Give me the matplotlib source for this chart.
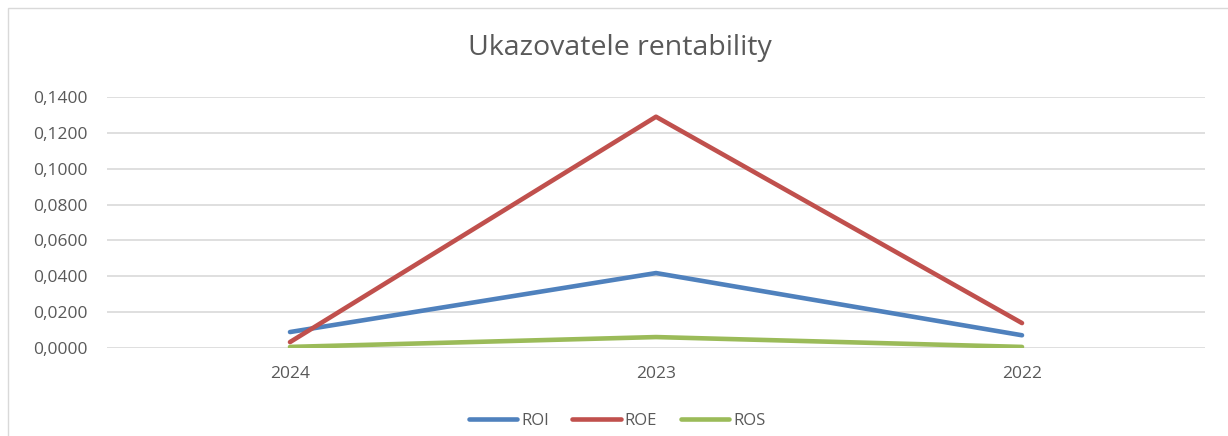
import matplotlib
matplotlib.use('Agg')
import matplotlib.pyplot as plt
from matplotlib.patches import Rectangle
from matplotlib.ticker import FuncFormatter

plt.rcParams['font.family'] = ['Open Sans', 'DejaVu Sans']

years = ['2024', '2023', '2022']
roi = [0.0089, 0.0418, 0.0071]
roe = [0.0033, 0.1290, 0.0139]
ros = [0.0006, 0.0061, 0.0006]

fig = plt.figure(figsize=(12.28, 4.36), dpi=100)
ax = fig.add_axes([107/1228, 1-348/436, 1098/1228, 251/436])

x = range(len(years))
ax.plot(x, roi, color='#4F81BD', lw=3.3, solid_capstyle='round', label='ROI')
ax.plot(x, roe, color='#C0504D', lw=3.3, solid_capstyle='round', label='ROE')
ax.plot(x, ros, color='#9BBB59', lw=3.3, solid_capstyle='round', label='ROS')

ax.set_xlim(-0.5, 2.5)
ax.set_ylim(0, 0.14)
ax.set_yticks([0.02 * i for i in range(8)])
ax.yaxis.set_major_formatter(FuncFormatter(lambda v, p: f'{v:.4f}'.replace('.', ',')))
ax.set_xticks(list(x))
ax.set_xticklabels(years)
ax.tick_params(length=0, labelsize=12.5, colors='#595959')
ax.tick_params(axis='y', pad=14)
ax.tick_params(axis='x', pad=13)
ax.grid(axis='y', color='#D9D9D9', lw=1.2)
ax.set_axisbelow(True)
for s in ax.spines.values():
    s.set_visible(False)

fig.text(620/1228, 1-48/436, 'Ukazovatele rentability', ha='center', va='center',
         fontsize=20.5, color='#595959')

leg = fig.legend(loc='center', bbox_to_anchor=(617/1228, 1-421/436), ncol=3, frameon=False,
                 fontsize=12, handlelength=2.9, columnspacing=1.4, handletextpad=0.25)
for t in leg.get_texts():
    t.set_color('#595959')

fig.patches.append(Rectangle((8/1228, -0.1), 1.2, 1-8/436 + 0.1, transform=fig.transFigure,
                             fill=False, edgecolor='#D9D9D9', lw=1))

fig.savefig('out.png', dpi=100)
